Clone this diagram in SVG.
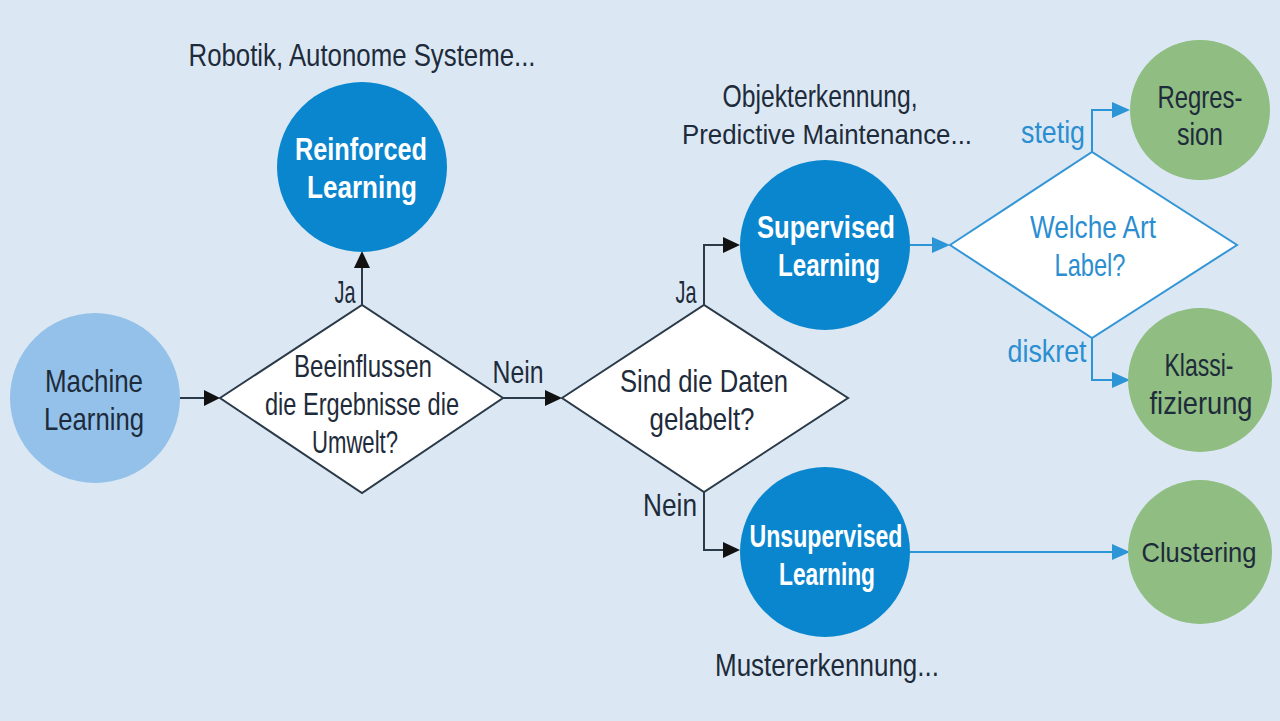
<svg xmlns="http://www.w3.org/2000/svg" width="1280" height="721" viewBox="0 0 1280 721">
<style>
text{font-family:"Liberation Sans",Arial,sans-serif;font-size:32px;text-anchor:middle}
.sm{font-size:28px}
.dark{fill:#1e2b3a}
.wt{fill:#ffffff;font-weight:bold}
.bt{fill:#2a8ed0}
.ml{fill:#93c1e9}
.bc{fill:#0a86cf}
.gc{fill:#8fbd82}
.dia{fill:#ffffff;stroke:#2b3a48;stroke-width:2}
.diab{fill:#ffffff;stroke:#3596d6;stroke-width:2}
.k{fill:none;stroke:#2b3a48;stroke-width:2}
.b{fill:none;stroke:#2b95d6;stroke-width:2}
</style>
<rect width="1280" height="721" fill="#dbe8f4"/>
<g id="connectors">
<path class="k" d="M180,398H206"/>
<path class="k" d="M362,305V266"/>
<path class="k" d="M503,398H547"/>
<path class="k" d="M704,305V245H725"/>
<path class="k" d="M704,492V550H725"/>
<path class="b" d="M910,245H934"/>
<path class="b" d="M1092,152V110H1114"/>
<path class="b" d="M1092,338V380H1114"/>
<path class="b" d="M910,552H1114"/>
<path d="M204,390L220,398L204,406Z" fill="#111"/>
<path d="M354,268L362,251L370,268Z" fill="#111"/>
<path d="M545,390L562,398L545,406Z" fill="#111"/>
<path d="M723,237L740,245L723,253Z" fill="#111"/>
<path d="M723,542L740,550L723,558Z" fill="#111"/>
<path d="M932,237L950,245L932,253Z" fill="#2b95d6"/>
<path d="M1112,102L1130,110L1112,118Z" fill="#2b95d6"/>
<path d="M1112,372L1130,380L1112,388Z" fill="#2b95d6"/>
<path d="M1112,544L1130,552L1112,560Z" fill="#2b95d6"/>
<text class="dark" x="345" y="303" textLength="21" lengthAdjust="spacingAndGlyphs">Ja</text>
<text class="dark" x="518" y="383" textLength="51" lengthAdjust="spacingAndGlyphs">Nein</text>
<text class="dark" x="686" y="303" textLength="21" lengthAdjust="spacingAndGlyphs">Ja</text>
<text class="dark" x="670" y="516" textLength="54" lengthAdjust="spacingAndGlyphs">Nein</text>
<text class="bt" x="1053" y="143" textLength="64" lengthAdjust="spacingAndGlyphs">stetig</text>
<text class="bt" x="1047" y="362" textLength="79" lengthAdjust="spacingAndGlyphs">diskret</text>
</g>
<g id="machine-learning">
<circle class="ml" cx="95" cy="398" r="85"/>
<text class="dark" x="94" y="392" textLength="98" lengthAdjust="spacingAndGlyphs">Machine</text>
<text class="dark" x="94" y="430" textLength="100" lengthAdjust="spacingAndGlyphs">Learning</text>
</g>
<g id="q-umwelt">
<path class="dia" d="M220,398L362,305L503,398L362,493Z"/>
<text class="dark" x="363" y="377" textLength="138" lengthAdjust="spacingAndGlyphs">Beeinflussen</text>
<text class="dark" x="362" y="415" textLength="194" lengthAdjust="spacingAndGlyphs">die Ergebnisse die</text>
<text class="dark" x="355" y="453" textLength="86" lengthAdjust="spacingAndGlyphs">Umwelt?</text>
</g>
<g id="reinforced-learning">
<text class="dark" x="362" y="66" textLength="347" lengthAdjust="spacingAndGlyphs">Robotik, Autonome Systeme...</text>
<circle class="bc" cx="362" cy="167" r="85"/>
<text class="wt" x="361" y="160" textLength="132" lengthAdjust="spacingAndGlyphs">Reinforced</text>
<text class="wt" x="362" y="198" textLength="110" lengthAdjust="spacingAndGlyphs">Learning</text>
</g>
<g id="q-gelabelt">
<path class="dia" d="M562,398L704,305L848,398L704,492Z"/>
<text class="dark" x="704" y="392" textLength="168" lengthAdjust="spacingAndGlyphs">Sind die Daten</text>
<text class="dark" x="702" y="430" textLength="105" lengthAdjust="spacingAndGlyphs">gelabelt?</text>
</g>
<g id="supervised-learning">
<text class="dark" x="820" y="107" textLength="195" lengthAdjust="spacingAndGlyphs">Objekterkennung,</text>
<text class="dark sm" x="827" y="144" textLength="290" lengthAdjust="spacingAndGlyphs">Predictive Maintenance...</text>
<circle class="bc" cx="825" cy="245" r="85"/>
<text class="wt" x="826" y="238" textLength="138" lengthAdjust="spacingAndGlyphs">Supervised</text>
<text class="wt" x="829" y="276" textLength="102" lengthAdjust="spacingAndGlyphs">Learning</text>
</g>
<g id="q-label">
<path class="diab" d="M950,245L1092,152L1237,245L1092,338Z"/>
<text class="bt" x="1093" y="238" textLength="126" lengthAdjust="spacingAndGlyphs">Welche Art</text>
<text class="bt" x="1090" y="276" textLength="71" lengthAdjust="spacingAndGlyphs">Label?</text>
</g>
<g id="regression">
<circle class="gc" cx="1200" cy="110" r="70"/>
<text class="dark" x="1200" y="108" textLength="85" lengthAdjust="spacingAndGlyphs">Regres-</text>
<text class="dark" x="1200" y="145" textLength="46" lengthAdjust="spacingAndGlyphs">sion</text>
</g>
<g id="klassifizierung">
<circle class="gc" cx="1200" cy="380" r="72"/>
<text class="dark" x="1199" y="376" textLength="69" lengthAdjust="spacingAndGlyphs">Klassi-</text>
<text class="dark" x="1201" y="414" textLength="103" lengthAdjust="spacingAndGlyphs">fizierung</text>
</g>
<g id="unsupervised-learning">
<circle class="bc" cx="825" cy="552" r="85"/>
<text class="wt" x="826" y="547" textLength="153" lengthAdjust="spacingAndGlyphs">Unsupervised</text>
<text class="wt" x="827" y="585" textLength="96" lengthAdjust="spacingAndGlyphs">Learning</text>
<text class="dark" x="827" y="676" textLength="224" lengthAdjust="spacingAndGlyphs">Mustererkennung...</text>
</g>
<g id="clustering">
<circle class="gc" cx="1200" cy="552" r="72"/>
<text class="dark sm" x="1199" y="562" textLength="115" lengthAdjust="spacingAndGlyphs">Clustering</text>
</g>
</svg>
